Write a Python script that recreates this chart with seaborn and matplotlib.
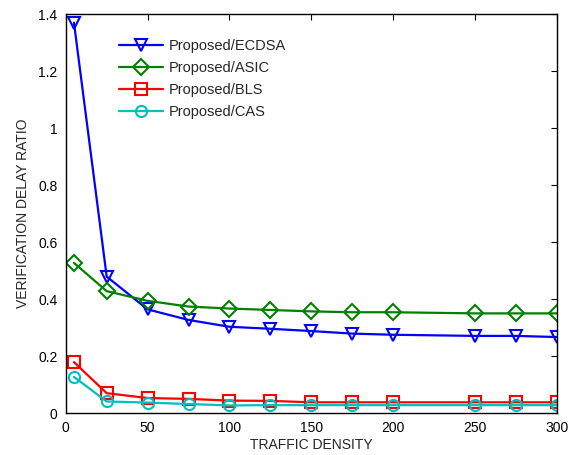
import matplotlib
matplotlib.use("Agg")
import matplotlib.pyplot as plt
import seaborn as sns
import pandas as pd

density = [5, 25, 50, 75, 100, 125, 150, 175, 200, 250, 275, 300]
ecdsa = [1.37, 0.479, 0.364, 0.327, 0.303, 0.296, 0.288, 0.279, 0.275, 0.271, 0.271, 0.267]
asic = [0.527, 0.428, 0.394, 0.374, 0.367, 0.362, 0.357, 0.354, 0.354, 0.350, 0.350, 0.350]
bls = [0.179, 0.070, 0.053, 0.050, 0.044, 0.043, 0.038, 0.038, 0.038, 0.038, 0.038, 0.038]
cas = [0.127, 0.041, 0.037, 0.032, 0.027, 0.028, 0.028, 0.028, 0.028, 0.028, 0.028, 0.028]

names = ["Proposed/ECDSA", "Proposed/ASIC", "Proposed/BLS", "Proposed/CAS"]
series = [ecdsa, asic, bls, cas]
colors = ["#0000ff", "#008000", "#ff0000", "#00bfbf"]
markers = ["v", "D", "s", "o"]

rows = []
for name, vals in zip(names, series):
    for x, y in zip(density, vals):
        rows.append({"density": x, "ratio": y, "scheme": name})
df = pd.DataFrame(rows)

sns.set_style("white")
plt.rcParams["font.family"] = ["Liberation Sans", "DejaVu Sans"]
plt.rcParams["xtick.direction"] = "in"
plt.rcParams["ytick.direction"] = "in"

fig = plt.figure(figsize=(5.77, 4.55), dpi=100)
ax = fig.add_axes([0.114, 0.092, 0.851, 0.877])

sns.lineplot(data=df, x="density", y="ratio", hue="scheme", style="scheme",
             palette=dict(zip(names, colors)), markers=dict(zip(names, markers)),
             dashes=False, ax=ax, linewidth=1.6, markersize=8,
             markerfacecolor="none", markeredgewidth=1.5)
for line, c in zip(ax.lines, colors):
    line.set_markeredgecolor(c)

ax.set_xlim(0, 300)
ax.set_ylim(0, 1.4)
ax.set_xticks(range(0, 301, 50))
ax.set_yticks([0, 0.2, 0.4, 0.6, 0.8, 1, 1.2, 1.4])
ax.set_yticklabels(["0", "0.2", "0.4", "0.6", "0.8", "1", "1.2", "1.4"])
ax.tick_params(top=True, right=True, labelsize=10, length=4, width=0.8,
               colors="black", pad=6)
for s in ax.spines.values():
    s.set_color("black")
    s.set_linewidth(1.0)
ax.set_xlabel("TRAFFIC DENSITY", fontsize=10, labelpad=2)
ax.set_ylabel("VERIFICATION DELAY RATIO", fontsize=10, labelpad=6)

handles, labels = ax.get_legend_handles_labels()
for h, c in zip(handles, colors):
    h.set_markerfacecolor("none")
    h.set_markeredgecolor(c)
    h.set_markeredgewidth(1.5)
ax.legend(handles, labels, loc="upper left", bbox_to_anchor=(0.097, 0.952),
          frameon=False, fontsize=10.5, handlelength=3.0, labelspacing=0.55,
          handletextpad=0.4, borderaxespad=0)

fig.savefig("out.png", dpi=100)
